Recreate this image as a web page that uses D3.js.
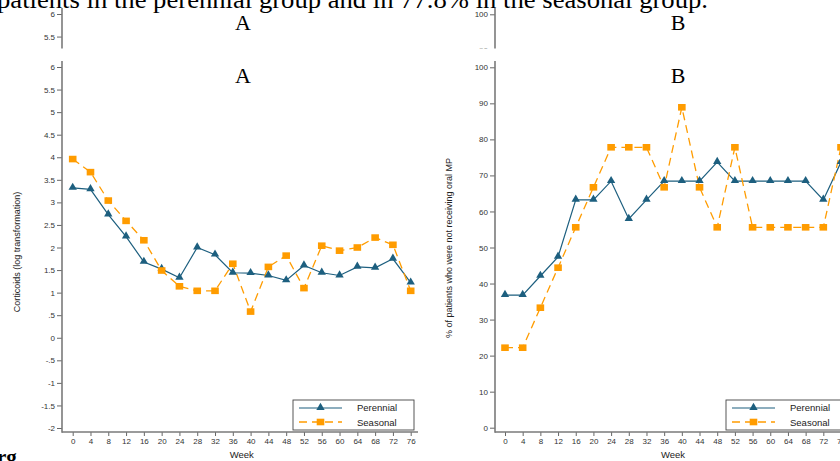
<!DOCTYPE html>
<html><head><meta charset="utf-8">
<script src="https://cdnjs.cloudflare.com/ajax/libs/d3/7.8.5/d3.min.js"></script>
<style>body{margin:0;background:#fff}svg{display:block}</style>
</head><body>
<svg id="c" width="840" height="461"></svg>
<script>
const weeks = [0,4,8,12,16,20,24,28,32,36,40,44,48,52,56,60,64,68,72,76];
const corticoidsPerennial = [3.32,3.29,2.73,2.24,1.68,1.52,1.33,2.0,1.84,1.44,1.43,1.38,1.27,1.6,1.44,1.38,1.57,1.55,1.75,1.22];
const corticoidsSeasonal = [3.96,3.67,3.04,2.59,2.16,1.49,1.14,1.04,1.04,1.64,0.58,1.57,1.82,1.10,2.04,1.93,2.0,2.22,2.06,1.04];
const oralPerennial = [36.8,36.8,42.1,47.4,63.2,63.2,68.4,57.9,63.2,68.4,68.4,68.4,73.7,68.4,68.4,68.4,68.4,68.4,63.2,73.7];
const oralSeasonal = [22.2,22.2,33.3,44.4,55.6,66.7,77.8,77.8,77.8,66.7,88.9,66.7,55.6,77.8,55.6,55.6,55.6,55.6,55.6,77.8];
const yTicksA = [6,5.5,5,4.5,4,3.5,3,2.5,2,1.5,1,0.5,0,-0.5,-1,-1.5,-2];
const yTicksB = [0,10,20,30,40,50,60,70,80,90,100];
const seriesNames = ["Perennial","Seasonal"];
const topText = "patients in the perennial group and in 77.8% in the seasonal group.";

const C_PER = "#1d5f7f", C_SEA = "#ff9c00", C_AX = "#7a7a7a";
const stataFmt = v => { let s = String(v); if (s.startsWith("0.")) s = s.slice(1); if (s.startsWith("-0.")) s = "-" + s.slice(2); return s; };

const svg = d3.select("#c");

function drawPanel(g, cfg) {
  const x = d3.scaleLinear().domain([0,76]).range(cfg.xr);
  const y = d3.scaleLinear().domain(cfg.yd).range(cfg.yr);
  // axes
  const ya = g.append("g").attr("transform",`translate(${cfg.ax},0)`)
    .call(d3.axisLeft(y).tickValues(cfg.yt).tickFormat(cfg.fmt).tickSize(5).tickSizeOuter(0));
  ya.select(".domain").remove();
  const xa = g.append("g").attr("transform",`translate(0,${cfg.ay})`)
    .call(d3.axisBottom(x).tickValues(weeks).tickSize(4).tickSizeOuter(0));
  xa.select(".domain").remove();
  [ya,xa].forEach(a=>{
    a.selectAll("line").attr("stroke","#555").attr("stroke-width",0.9);
    a.selectAll("text").attr("font-family","Liberation Sans, Arial, sans-serif").attr("font-size","8px").attr("fill","#333");
  });
  ya.selectAll("text").attr("x",-7);
  xa.selectAll("text").attr("y",6);
  g.append("line").attr("x1",cfg.ax).attr("x2",cfg.ax).attr("y1",cfg.ytop).attr("y2",cfg.ay+0.8)
    .attr("stroke",C_AX).attr("stroke-width",1.6);
  g.append("line").attr("x1",cfg.ax).attr("x2",cfg.xend).attr("y1",cfg.ay).attr("y2",cfg.ay)
    .attr("stroke",C_AX).attr("stroke-width",1.6);
  // labels
  g.append("text").attr("transform",`translate(${cfg.ylx},${cfg.yly}) rotate(-90)`)
    .attr("text-anchor","middle").attr("font-family","Liberation Sans, Arial, sans-serif")
    .attr("font-size","9px").attr("fill","#222").text(cfg.ylabel);
  g.append("text").attr("x",(cfg.xr[0]+cfg.xr[1])/2).attr("y",458).attr("text-anchor","middle")
    .attr("font-family","Liberation Sans, Arial, sans-serif").attr("font-size","9.5px").attr("fill","#222").text("Week");
  g.append("text").attr("x",cfg.tx).attr("y",83).attr("text-anchor","middle")
    .attr("font-family","Liberation Serif, Times New Roman, serif").attr("font-size","22px").attr("fill","#000").text(cfg.title);
  // lines
  const line = d3.line().x((d,i)=>x(weeks[i])).y(d=>y(d));
  g.append("path").datum(cfg.per).attr("d",line).attr("fill","none").attr("stroke",C_PER).attr("stroke-width",1.2);
  g.append("path").datum(cfg.sea).attr("d",line).attr("fill","none").attr("stroke",C_SEA).attr("stroke-width",1.3).attr("stroke-dasharray","8,5");
  const tri = d3.symbol().type(d3.symbolTriangle).size(30);
  g.selectAll(null).data(cfg.per).join("path").attr("d",tri)
    .attr("transform",(d,i)=>`translate(${x(weeks[i])},${y(d)-0.5})`).attr("fill",C_PER);
  g.selectAll(null).data(cfg.sea).join("rect")
    .attr("x",(d,i)=>x(weeks[i])-3.8).attr("y",d=>y(d)-3.3).attr("width",7.6).attr("height",6.6).attr("fill",C_SEA);
  // legend
  const lx = cfg.ax + 231, ly = 400;
  const lg = g.append("g");
  lg.append("rect").attr("x",lx).attr("y",ly).attr("width",121).attr("height",30)
    .attr("fill","#fff").attr("stroke","#444").attr("stroke-width",0.9);
  lg.append("line").attr("x1",lx+6).attr("x2",lx+49).attr("y1",ly+8).attr("y2",ly+8).attr("stroke",C_PER).attr("stroke-width",1.2);
  lg.append("path").attr("d",tri).attr("transform",`translate(${lx+27.5},${ly+7.5})`).attr("fill",C_PER);
  lg.append("line").attr("x1",lx+6).attr("x2",lx+49).attr("y1",ly+22).attr("y2",ly+22).attr("stroke",C_SEA).attr("stroke-width",1.3).attr("stroke-dasharray","8,5");
  lg.append("rect").attr("x",lx+23.7).attr("y",ly+18.7).attr("width",7.6).attr("height",6.6).attr("fill",C_SEA);
  lg.selectAll(null).data(seriesNames).join("text").attr("x",lx+64).attr("y",(d,i)=>ly+11+i*14.5)
    .attr("font-family","Liberation Sans, Arial, sans-serif").attr("font-size","9.5px").attr("fill","#222").text(d=>d);
}

function drawScene(g) {
  drawPanel(g.append("g"), {xr:[72.7,410.7], yd:[-2,6], yr:[428,67], ax:62, ay:432, ytop:61, xend:418,
    yt:yTicksA, fmt:stataFmt, per:corticoidsPerennial, sea:corticoidsSeasonal,
    ylabel:"Corticoids (log transformation)", ylx:20, yly:252, title:"A", tx:243});
  drawPanel(g.append("g"), {xr:[505,841], yd:[0,100], yr:[427.7,67.3], ax:495, ay:432, ytop:61, xend:851,
    yt:yTicksB, fmt:d3.format("d"), per:oralPerennial, sea:oralSeasonal,
    ylabel:"% of patients who were not receiving oral MP", ylx:452, yly:248, title:"B", tx:678});
}

drawScene(svg.append("g"));

// duplicated top strip of the page
const defs = svg.append("defs");
defs.append("clipPath").attr("id","topclip").append("rect").attr("x",0).attr("y",0).attr("width",840).attr("height",48.5);
const strip = svg.append("g").attr("clip-path","url(#topclip)");
strip.append("rect").attr("x",0).attr("y",0).attr("width",840).attr("height",52).attr("fill","#fff");
drawScene(strip.append("g").attr("transform","translate(0,-53)"));
strip.append("text").attr("x",-3).attr("y",8).attr("font-family","Liberation Serif, Times New Roman, serif")
  .attr("font-size","25px").attr("fill","#000").attr("textLength",711).attr("lengthAdjust","spacingAndGlyphs").text(topText);

svg.append("text").attr("x",-3).attr("y",464).attr("font-family","Liberation Serif, serif").attr("font-weight","bold")
  .attr("font-size","21px").attr("fill","#000").text("rg");
</script>
</body></html>
